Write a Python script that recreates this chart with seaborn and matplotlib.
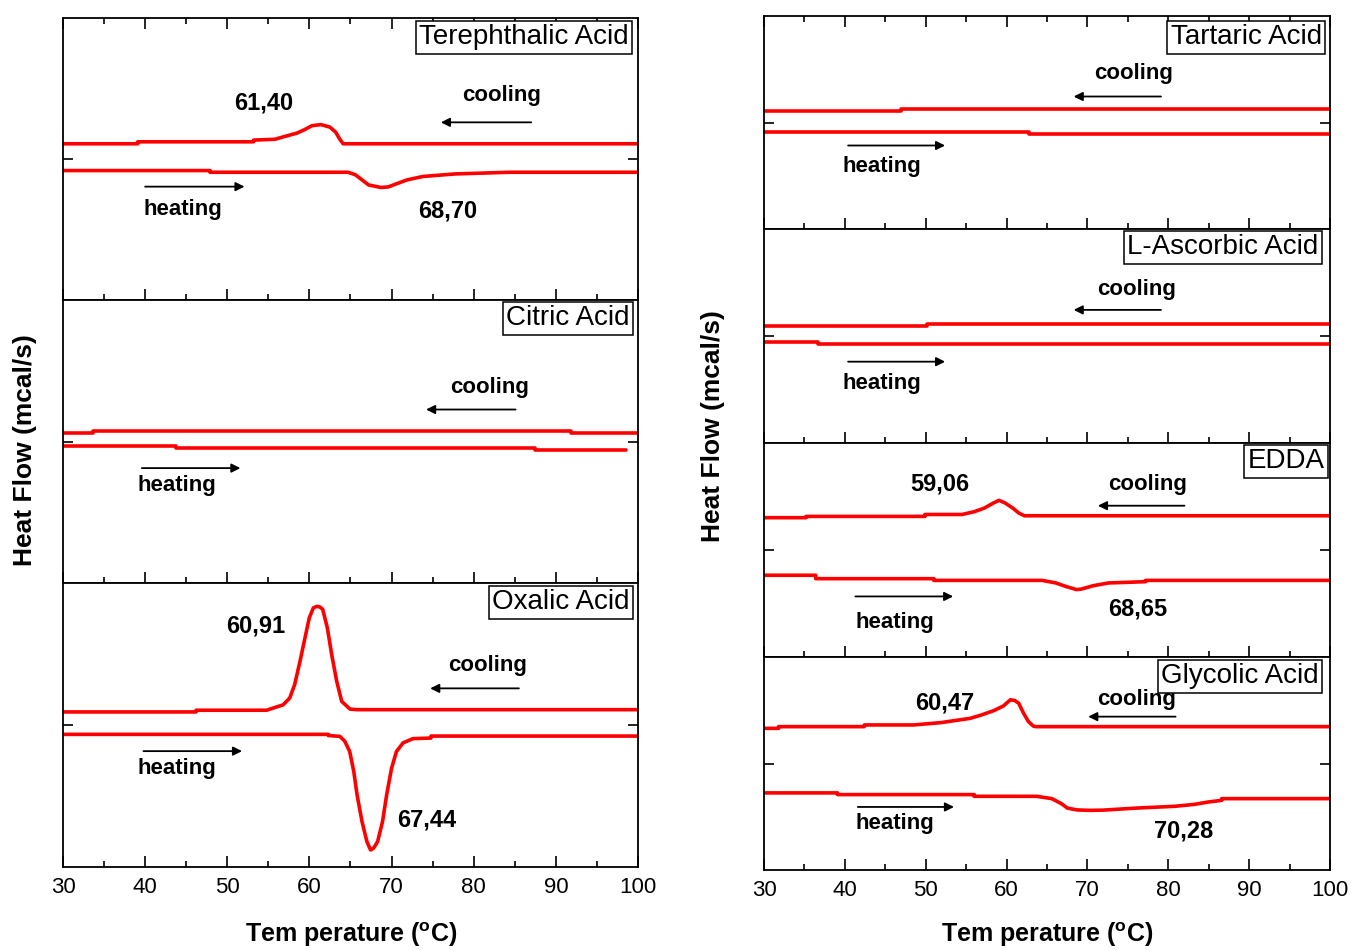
import matplotlib
matplotlib.use("Agg")
import matplotlib.pyplot as plt
from matplotlib.ticker import MultipleLocator
import pandas as pd
import seaborn as sns

sns.set_theme(style="white")
plt.rcParams["font.family"] = ["Liberation Sans", "DejaVu Sans"]
plt.rcParams["mathtext.fontset"] = "custom"
plt.rcParams["mathtext.rm"] = "Liberation Sans"
plt.rcParams["mathtext.bf"] = "Liberation Sans:bold"
plt.rcParams["text.color"] = "black"
plt.rcParams["xtick.color"] = "black"
plt.rcParams["ytick.color"] = "black"
plt.rcParams["xtick.labelcolor"] = "black"

# ---- DSC traces (temperature in degC, heat flow in relative units per panel) ----
tere_cool_T = [30, 39.1, 39.1, 53.2, 53.2, 55.8, 57.0, 58.5, 59.4, 60.3, 61.40, 62.5, 63.2, 63.7, 64.1, 100]
tere_cool_y = [.554, .554, .561, .561, .567, .570, .580, .592, .604, .618, .622, .613, .595, .570, .554, .554]
tere_heat_T = [30, 47.9, 47.9, 64.7, 65.6, 66.4, 67.2, 68.70, 69.6, 70.5, 71.9, 73.8, 77.7, 84.4, 100]
tere_heat_y = [.459, .459, .453, .453, .444, .426, .408, .399, .401, .411, .426, .438, .447, .453, .453]

citr_cool_T = [30, 33.7, 33.7, 91.8, 91.8, 100]
citr_cool_y = [.530, .530, .538, .538, .530, .530]
citr_heat_T = [30, 43.8, 43.8, 87.5, 87.5, 98.6]
citr_heat_y = [.485, .485, .476, .476, .469, .469]

oxal_cool_T = [30, 46.2, 46.2, 54.8, 55.2, 56.8, 57.6, 58.2, 58.85, 59.46, 59.98, 60.47, 60.91,
               61.3, 61.62, 62.18, 62.71, 63.32, 63.93, 64.94, 65.76, 100]
oxal_cool_y = [.546, .546, .552, .552, .556, .571, .595, .642, .724, .807, .877, .912, .918,
               .915, .907, .842, .748, .654, .583, .556, .554, .554]
oxal_heat_T = [30, 62.3, 62.3, 63.7, 64.3, 64.9, 65.4, 65.8, 66.4, 67.0, 67.44, 67.8, 68.3,
               68.9, 69.4, 70.0, 70.6, 71.4, 72.6, 74.8, 74.8, 100]
oxal_heat_y = [.467, .467, .463, .460, .443, .407, .336, .254, .160, .089, .060, .066, .089,
               .160, .254, .348, .407, .437, .452, .454, .461, .461]

tart_cool_T = [30, 47.0, 47.0, 100]
tart_cool_y = [.552, .552, .5625, .5625]
tart_heat_T = [30, 62.8, 62.8, 100]
tart_heat_y = [.456, .456, .448, .448]

asco_cool_T = [30, 50.2, 50.2, 100]
asco_cool_y = [.547, .547, .556, .556]
asco_heat_T = [30, 36.7, 36.7, 100]
asco_heat_y = [.470, .470, .461, .461]

edda_cool_T = [30, 35.2, 35.2, 49.9, 49.9, 54.5, 56.0, 57.2, 58.4, 59.06, 59.8, 60.8, 61.5, 62.2, 100]
edda_cool_y = [.651, .651, .657, .657, .666, .666, .679, .695, .720, .732, .720, .695, .673, .660, .660]
edda_heat_T = [30, 36.4, 36.4, 51.0, 51.0, 64.4, 66.1, 67.3, 68.65, 69.2, 70.7, 72.6, 77.2, 77.2, 100]
edda_heat_y = [.382, .382, .366, .366, .358, .358, .346, .330, .315, .317, .333, .346, .352, .358, .358]

glyc_cool_T = [30, 31.8, 31.8, 42.4, 42.4, 48.5, 51.9, 53.5, 55.5, 56.9, 58.4, 59.6, 60.47, 61.0,
               61.5, 62.1, 62.7, 63.3, 63.6, 100]
glyc_cool_y = [.665, .665, .673, .673, .681, .681, .692, .701, .712, .728, .748, .770, .799, .796,
               .783, .736, .697, .676, .673, .673]
glyc_heat_T = [30, 39.1, 39.1, 56.0, 56.0, 63.7, 65.6, 66.8, 67.5, 68.7, 70.28, 71.9, 76.2, 80.8,
               83.2, 84.9, 86.6, 86.6, 100]
glyc_heat_y = [.362, .362, .354, .354, .346, .346, .335, .311, .291, .282, .280, .281, .291, .299,
               .308, .319, .327, .335, .335]

# Peak temperatures written next to the exo/endo events
tere_peaks = [61.40, 68.70]
oxal_peaks = [60.91, 67.44]
edda_peaks = [59.06, 68.65]
glyc_peaks = [60.47, 70.28]

sample_names = ["Terephthalic Acid", "Citric Acid", "Oxalic Acid",
                "Tartaric Acid", "L-Ascorbic Acid", "EDDA", "Glycolic Acid"]

W, H = 1351, 950
fig = plt.figure(figsize=(W / 100, H / 100), dpi=100)

NAME_SIZE = 20
NAME_PAD = 0.12


def make_axes(x0, x1, top, bottom):
    return fig.add_axes([x0 / W, 1 - bottom / H, (x1 - x0) / W, (bottom - top) / H])


def fmt(v):
    return f"{v:.2f}".replace(".", ",")


def draw_panel(ax, name, name_gap, cool, heat, is_top, is_bottom, notes,
               peaks=None, peak_pos=None):
    for T, y in (cool, heat):
        df = pd.DataFrame({"T": T, "q": y})
        sns.lineplot(data=df, x="T", y="q", ax=ax, color="#ff0000", lw=2.6,
                     estimator=None, sort=False, legend=False)
    ax.set_xlim(30, 100)
    ax.set_ylim(0, 1)
    ax.xaxis.set_major_locator(MultipleLocator(10))
    ax.xaxis.set_minor_locator(MultipleLocator(5))
    ax.set_yticks([0.5])
    ax.set_xlabel("")
    ax.set_ylabel("")
    for sp in ax.spines.values():
        sp.set_color("black")
        sp.set_linewidth(1.3)
    ax.tick_params(axis="x", which="major", direction="in", length=8, width=1.2,
                   top=is_top, bottom=True, labelbottom=is_bottom, labelsize=16,
                   pad=7, colors="black")
    ax.tick_params(axis="x", which="minor", direction="in", length=4.5, width=1.2,
                   top=is_top, bottom=True)
    ax.tick_params(axis="y", which="major", direction="in", length=7, width=1.2,
                   left=True, right=True, labelleft=False)

    # sample name in a framed box near the top right corner
    pad_px = NAME_PAD * NAME_SIZE * 100 / 72
    gx, gy = name_gap
    ax.annotate(name, xy=(1, 1), xycoords="axes fraction",
                xytext=(-(gx + pad_px + 1), -(gy + pad_px + 1)), textcoords="offset pixels",
                ha="right", va="top", fontsize=NAME_SIZE, color="black", zorder=6,
                bbox=dict(boxstyle=f"square,pad={NAME_PAD}", fc="white", ec="black", lw=1.1))

    # direction of the temperature scan
    (cx, cy), (ca0, ca1, cay), (hx, hy), (ha0, ha1, hay) = notes
    ax.text(cx, cy, "cooling", ha="center", va="center", fontsize=16,
            fontweight="bold", zorder=3)
    ax.annotate("", xy=(ca1, cay), xytext=(ca0, cay),
                arrowprops=dict(arrowstyle="-|>", lw=1.3, color="black",
                                mutation_scale=13, shrinkA=0, shrinkB=0))
    ax.text(hx, hy, "heating", ha="center", va="center", fontsize=16,
            fontweight="bold", zorder=3)
    ax.annotate("", xy=(ha1, hay), xytext=(ha0, hay),
                arrowprops=dict(arrowstyle="-|>", lw=1.3, color="black",
                                mutation_scale=13, shrinkA=0, shrinkB=0))
    if peaks is not None:
        for v, (px, py) in zip(peaks, peak_pos):
            ax.text(px, py, fmt(v), ha="center", va="center", fontsize=17,
                    fontweight="bold")


# ---- left column ----
axL = [make_axes(63, 638, 18, 300), make_axes(63, 638, 300, 583), make_axes(63, 638, 583, 867)]
draw_panel(axL[0], sample_names[0], (5, 2), (tere_cool_T, tere_cool_y), (tere_heat_T, tere_heat_y),
           True, False,
           ((83.4, .724), (87.0, 76.0, .630), (44.6, .320), (40.0, 52.1, .402)),
           tere_peaks, [(54.4, .698), (76.8, .317)])
draw_panel(axL[1], sample_names[1], (4, 1), (citr_cool_T, citr_cool_y), (citr_heat_T, citr_heat_y),
           False, False,
           ((81.9, .690), (85.1, 74.2, .613), (43.9, .343), (39.6, 51.6, .406)))
draw_panel(axL[2], sample_names[2], (4, 2), (oxal_cool_T, oxal_cool_y), (oxal_heat_T, oxal_heat_y),
           False, True,
           ((81.7, .711), (85.5, 74.7, .629), (43.9, .346), (39.8, 51.8, .408)),
           oxal_peaks, [(53.4, .849), (74.3, .165)])

# ---- right column ----
axR = [make_axes(764, 1330, 16, 229), make_axes(764, 1330, 229, 443),
       make_axes(764, 1330, 443, 657), make_axes(764, 1330, 657, 870)]
draw_panel(axR[0], sample_names[3], (4, 4), (tart_cool_T, tart_cool_y), (tart_heat_T, tart_heat_y),
           True, False,
           ((75.7, .731), (79.1, 68.3, .622), (44.6, .294), (40.4, 52.4, .392)))
draw_panel(axR[1], sample_names[4], (7, 1), (asco_cool_T, asco_cool_y), (asco_heat_T, asco_heat_y),
           False, False,
           ((76.1, .719), (79.1, 68.3, .622), (44.6, .278), (40.4, 52.4, .380)))
draw_panel(axR[2], sample_names[5], (1, 1), (edda_cool_T, edda_cool_y), (edda_heat_T, edda_heat_y),
           False, False,
           ((77.4, .805), (82.0, 71.3, .707), (46.2, .162), (41.3, 53.4, .283)),
           edda_peaks, [(51.8, .810), (76.2, .224)])
draw_panel(axR[3], sample_names[6], (7, 2), (glyc_cool_T, glyc_cool_y), (glyc_heat_T, glyc_heat_y),
           False, True,
           ((76.1, .802), (80.9, 70.1, .720), (46.2, .220), (41.6, 53.5, .296)),
           glyc_peaks, [(52.4, .783), (81.9, .181)])

# ---- axis titles ----
xlab = "Tem perature ($^{\\mathbf{o}}$C)"
fig.text(351 / W, 1 - 935 / H, xlab, ha="center", va="center", fontsize=18, fontweight="bold")
fig.text(1047 / W, 1 - 935 / H, xlab, ha="center", va="center", fontsize=18, fontweight="bold")
fig.text(25 / W, 1 - 450 / H, "Heat Flow (mcal/s)", rotation=90, ha="center", va="center",
         fontsize=19, fontweight="bold")
fig.text(713 / W, 1 - 426 / H, "Heat Flow (mcal/s)", rotation=90, ha="center", va="center",
         fontsize=19, fontweight="bold")

fig.savefig("out.png", dpi=100, facecolor="white")
